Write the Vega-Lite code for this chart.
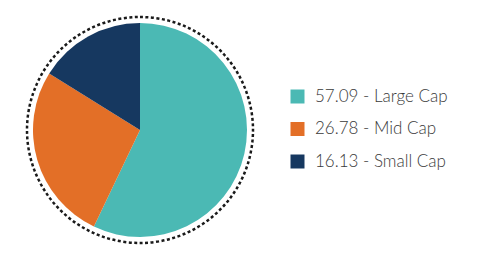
{
  "$schema": "https://vega.github.io/schema/vega-lite/v6.json",
  "width": 280,
  "height": 260,
  "padding": 0,
  "background": "white",
  "view": {"stroke": null},
  "data": {"values": [
    {"cap": "Large Cap", "value": 57.09, "label": "57.09 - Large Cap", "ord": 1},
    {"cap": "Mid Cap", "value": 26.78, "label": "26.78 - Mid Cap", "ord": 2},
    {"cap": "Small Cap", "value": 16.13, "label": "16.13 - Small Cap", "ord": 3}
  ]},
  "layer": [
    {
      "mark": {"type": "arc", "outerRadius": 107},
      "encoding": {
        "theta": {"field": "value", "type": "quantitative", "stack": true},
        "order": {"field": "ord", "type": "quantitative"},
        "color": {
          "field": "label",
          "type": "nominal",
          "sort": ["57.09 - Large Cap", "26.78 - Mid Cap", "16.13 - Small Cap"],
          "scale": {"domain": ["57.09 - Large Cap", "26.78 - Mid Cap", "16.13 - Small Cap"], "range": ["#4bb9b4", "#e36f27", "#163860"]},
          "legend": {
            "title": null,
            "orient": "none",
            "legendX": 289,
            "legendY": 88,
            "padding": 0,
            "symbolType": "square",
            "symbolSize": 196,
            "symbolStrokeWidth": 0,
            "labelFontSize": 17,
            "labelFont": "Lato",
            "labelFontWeight": 300,
            "labelColor": "#3a3a3a",
            "labelOffset": 9,
            "rowPadding": 14.5,
            "labelLimit": 300
          }
        }
      }
    },
    {
      "data": {"values": [{"full": 1}]},
      "mark": {"type": "arc", "outerRadius": 113, "theta": 0, "theta2": 6.2832, "filled": false, "fill": null, "stroke": "#1a1a1a", "strokeWidth": 2.5, "strokeDash": [3, 2.5]},
      "encoding": {}
    }
  ]
}
